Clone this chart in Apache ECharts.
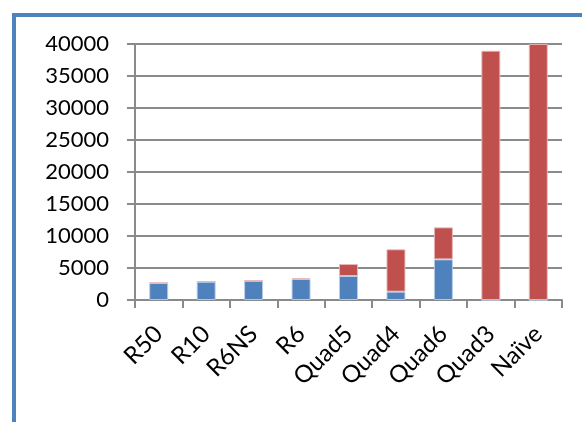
<!DOCTYPE html>
<html>
<head>
<meta charset="utf-8">
<script src="https://cdn.jsdelivr.net/npm/echarts@6/dist/echarts.min.js"></script>
<style>
  html, body { margin: 0; padding: 0; background: #ffffff; }
  #chart { width: 582px; height: 422px; }
</style>
</head>
<body>
<div id="chart"></div>
<script>
// Methods compared along the category axis
const categories = ['R50', 'R10', 'R6NS', 'R6', 'Quad5', 'Quad4', 'Quad6', 'Quad3', 'Naïve'];
// Lower (blue) part of each stacked bar
const blueValues = [2650, 2850, 3000, 3280, 3750, 1300, 6350, 0, 0];
// Upper (red) part of each stacked bar
const redValues = [90, 60, 60, 150, 1870, 6620, 5000, 38950, 40000];
// Value-axis range
const yMin = 0;
const yMax = 40000;
const yStep = 5000;

const chart = echarts.init(document.getElementById('chart'), null, { renderer: 'canvas' });

const gridGray = '#8a8a8a';

chart.setOption({
  animation: false,
  backgroundColor: '#ffffff',
  graphic: [{
    type: 'rect',
    shape: { x: 14, y: 15, width: 700, height: 600 },
    style: { fill: 'none', stroke: '#4f81bd', lineWidth: 4 },
    silent: true,
    z: 100
  }],
  grid: { left: 135, right: 20, top: 44, bottom: 122, containLabel: false },
  xAxis: {
    type: 'category',
    data: categories,
    boundaryGap: true,
    axisLine: { show: true, lineStyle: { color: gridGray, width: 2 } },
    axisTick: { show: true, length: 8, alignWithLabel: false, lineStyle: { color: gridGray, width: 2 } },
    axisLabel: {
      rotate: 45, margin: 30, interval: 0,
      fontFamily: 'Lato', fontSize: 24, color: '#000000'
    },
    splitLine: { show: false }
  },
  yAxis: {
    type: 'value',
    min: yMin,
    max: yMax,
    interval: yStep,
    axisLine: { show: true, lineStyle: { color: gridGray, width: 2 } },
    axisTick: { show: true, length: 8, lineStyle: { color: gridGray, width: 2 } },
    axisLabel: {
      margin: 26, fontFamily: 'Lato', fontSize: 22, color: '#000000',
      formatter: (v) => String(v)
    },
    splitLine: { show: true, lineStyle: { color: gridGray, width: 2 } }
  },
  series: [
    {
      name: 'blue',
      type: 'bar',
      stack: 'total',
      data: blueValues,
      barWidth: '40%',
      itemStyle: { color: '#4f81bd', borderColor: 'rgba(185,205,229,0.9)', borderWidth: 1 }
    },
    {
      name: 'red',
      type: 'bar',
      stack: 'total',
      data: redValues,
      barWidth: '40%',
      itemStyle: { color: '#c0504d', borderColor: 'rgba(230,185,184,0.9)', borderWidth: 1 }
    }
  ]
});
</script>
</body>
</html>
